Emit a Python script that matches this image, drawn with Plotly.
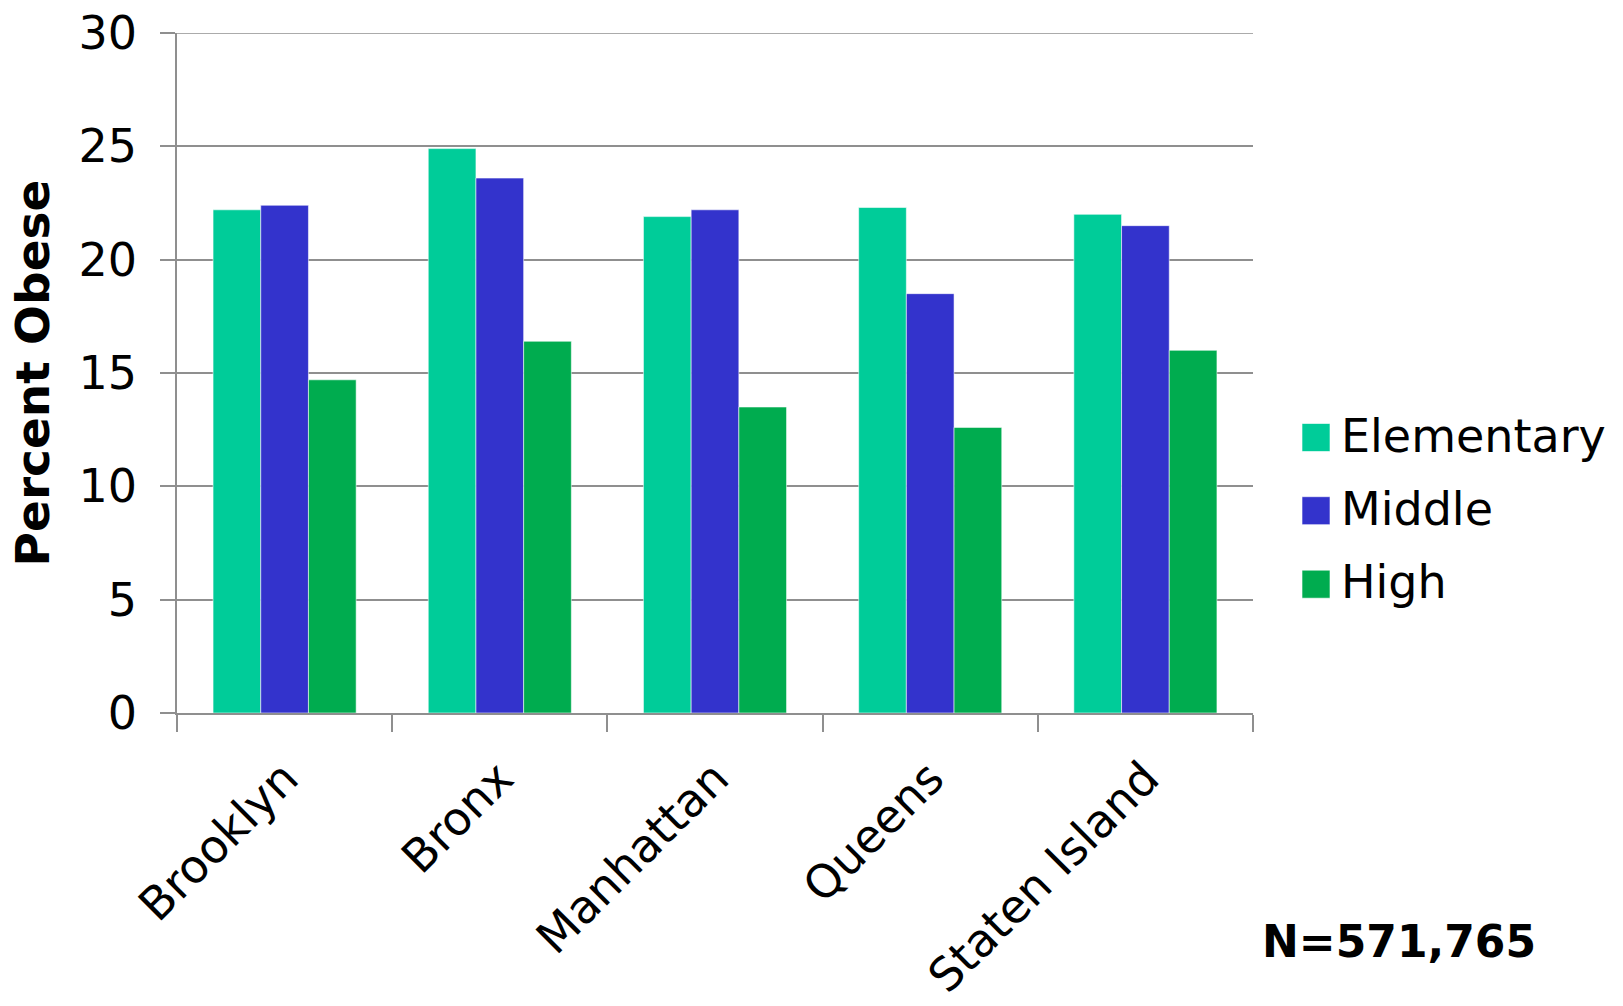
import plotly.graph_objects as go

# Borough-level obesity rates by school level
boroughs = ["Brooklyn", "Bronx", "Manhattan", "Queens", "Staten Island"]
series_names = ["Elementary", "Middle", "High"]
elementary = [22.2, 24.9, 21.9, 22.3, 22.0]
middle = [22.4, 23.6, 22.2, 18.5, 21.5]
high = [14.7, 16.4, 13.5, 12.6, 16.0]
series_colors = ["#00CC99", "#3333CC", "#00AC4F"]
y_ticks = [0, 5, 10, 15, 20, 25, 30]
sample_note = "N=571,765"

W, H = 1623, 1006
ML, MR, MT, MB = 177, 370, 33, 293
PW, PH = W - ML - MR, H - MT - MB

FONT = "DejaVu Sans, Verdana, sans-serif"
GRID = "#8f8f8f"


def px_x(px):
    return (px - ML) / PW


def px_y(py):
    return (H - MB - py) / PH


fig = go.Figure()
for name, vals, col in zip(series_names, [elementary, middle, high], series_colors):
    fig.add_trace(go.Bar(
        name=name, x=boroughs, y=vals,
        marker=dict(color=col, line=dict(color="rgba(255,255,255,0.55)", width=1)),
        showlegend=False,
    ))

# Top gridline at the end of the value range
fig.add_shape(type="line", xref="paper", yref="y", x0=0, x1=1,
              y0=y_ticks[-1], y1=y_ticks[-1], line=dict(color=GRID, width=1.5),
              layer="below")

# Legend drawn as square swatches with labels to the right of the plot
sw = 28
row_centers = [437.5, 510.7, 584.2]
for name, col, cy in zip(series_names, series_colors, row_centers):
    fig.add_shape(type="rect", xref="paper", yref="paper",
                  x0=px_x(1302), x1=px_x(1302 + sw),
                  y0=px_y(cy + sw / 2), y1=px_y(cy - sw / 2),
                  fillcolor=col, line=dict(color="rgba(255,255,255,0.6)", width=1))
    fig.add_annotation(text=name, xref="paper", yref="paper",
                       x=px_x(1339), y=px_y(cy - 2), xanchor="left", yanchor="middle",
                       showarrow=False, font=dict(family=FONT, size=46, color="black"))

fig.add_annotation(text="<b>" + sample_note + "</b>", xref="paper", yref="paper",
                   x=px_x(1260), y=px_y(941), xanchor="left", yanchor="middle",
                   showarrow=False,
                   font=dict(family="DejaVu Sans, Arial, sans-serif", size=44, color="black"))

fig.update_layout(
    width=W, height=H,
    margin=dict(l=ML, r=MR, t=MT, b=MB, pad=0, autoexpand=False),
    paper_bgcolor="white", plot_bgcolor="white",
    barmode="group", bargap=0.335, bargroupgap=0,
    font=dict(family=FONT, size=45, color="black"),
)

fig.update_xaxes(
    type="category", showline=True, linecolor=GRID, linewidth=1.5,
    ticks="outside", tickson="boundaries", ticklen=17, tickwidth=1.5, tickcolor=GRID,
    tickangle=-45, tickfont=dict(family=FONT, size=46, color="black"),
    ticklabelstandoff=18,
    showgrid=False, zeroline=False, automargin=False,
)
fig.update_yaxes(
    range=[0, 30], tickvals=y_ticks, showline=True, linecolor=GRID, linewidth=1.5,
    ticks="outside", ticklen=15, tickwidth=1.5, tickcolor=GRID,
    showgrid=True, gridcolor=GRID, gridwidth=1.5, zeroline=False,
    tickfont=dict(family=FONT, size=46, color="black"),
    ticklabelstandoff=14, automargin=False,
    title=dict(text="<b>Percent Obese</b>", standoff=14,
               font=dict(family=FONT, size=47, color="black")),
)

fig.write_html("out.html")
